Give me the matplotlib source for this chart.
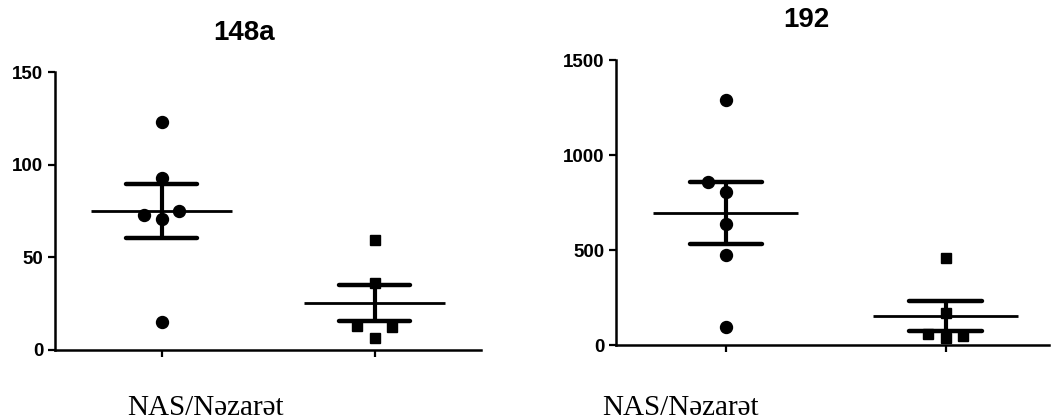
import numpy as np
import matplotlib.pyplot as plt

# data
titles = ["148a", "192"]
group_label = "NAS/Nəzarət"

nas_148a = [123.0, 93.0, 74.8, 72.8, 70.8, 15.0]
ctrl_148a = [59.1, 35.9, 12.8, 12.1, 6.5]
nas_192 = [1291, 861, 804, 636, 474, 97]
ctrl_192 = [460, 167, 56, 39, 47]

yticks_148a = [0, 50, 100, 150]
yticks_192 = [0, 500, 1000, 1500]

# horizontal spread of overlapping points (scatter-dot layout)
jit_nas_148a = [0, 0, 0.08, -0.08, 0, 0]
jit_ctrl_148a = [0, 0, -0.08, 0.08, 0]
jit_nas_192 = [0, -0.08, 0, 0, 0, 0]
jit_ctrl_192 = [0, 0, -0.08, 0, 0.08]

W, H = 1051, 419
TICK_FONT = dict(family=["Liberation Sans", "DejaVu Sans"], weight="bold", size=13.5)


def px_axes(fig, x0, x1, ytop, ybot):
    return fig.add_axes([x0 / W, (H - ybot) / H, (x1 - x0) / W, (ybot - ytop) / H])


def draw_group(ax, xpos, vals, jit, marker, ms):
    vals = np.asarray(vals, dtype=float)
    mean = vals.mean()
    sem = vals.std(ddof=1) / np.sqrt(len(vals))
    ax.hlines(mean, xpos - 0.33, xpos + 0.33, color="black", lw=2.0, zorder=3)
    ax.vlines(xpos, mean - sem, mean + sem, color="black", lw=3.0, zorder=3)
    for y in (mean - sem, mean + sem):
        ax.plot([xpos - 0.165, xpos + 0.165], [y, y], color="black", lw=3.2,
                solid_capstyle="round", zorder=3)
    ax.plot(xpos + np.asarray(jit), vals, linestyle="none", marker=marker,
            ms=ms, color="black", mec="black", zorder=4)


def style_axes(ax, yticks, xmax):
    ax.set_xlim(0.5, xmax)
    ax.set_ylim(yticks[0], yticks[-1])
    ax.set_yticks(yticks)
    ax.set_xticks([1, 2])
    ax.set_xticklabels([])
    for side in ("top", "right"):
        ax.spines[side].set_visible(False)
    for side in ("left", "bottom"):
        ax.spines[side].set_linewidth(1.8)
        ax.spines[side].set_color("black")
    ax.tick_params(axis="both", direction="out", length=5.3, width=1.6, color="black")
    ax.tick_params(axis="y", pad=3.0)
    for lab in ax.get_yticklabels():
        lab.set_fontproperties(None)
        lab.set_family(TICK_FONT["family"])
        lab.set_fontweight("bold")
        lab.set_fontsize(TICK_FONT["size"])
    for a in (ax.patch,):
        a.set_visible(False)


fig = plt.figure(figsize=(W / 100, H / 100), dpi=100)

ax1 = px_axes(fig, 55, 481, 72.3, 349.7)
draw_group(ax1, 1, nas_148a, jit_nas_148a, "o", 8.6)
draw_group(ax1, 2, ctrl_148a, jit_ctrl_148a, "s", 7.6)
style_axes(ax1, yticks_148a, 2.5)

ax2 = px_axes(fig, 616, 1049, 60.3, 345)
draw_group(ax2, 1, nas_192, jit_nas_192, "o", 8.6)
draw_group(ax2, 2, ctrl_192, jit_ctrl_192, "s", 7.6)
style_axes(ax2, yticks_192, 2.47)

title_font = dict(family=["Liberation Sans", "DejaVu Sans"], weight="bold", size=20)
fig.text(244 / W, (H - 40) / H, titles[0], ha="center", va="baseline", **title_font)
fig.text(806 / W, (H - 27) / H, titles[1], ha="center", va="baseline", **title_font)

label_font = dict(family=["Liberation Serif", "DejaVu Serif"], size=21)
fig.text(205 / W, (H - 415) / H, group_label, ha="center", va="baseline", **label_font)
fig.text(680 / W, (H - 415) / H, group_label, ha="center", va="baseline", **label_font)

fig.savefig("out.png", dpi=100)
plt.close(fig)
